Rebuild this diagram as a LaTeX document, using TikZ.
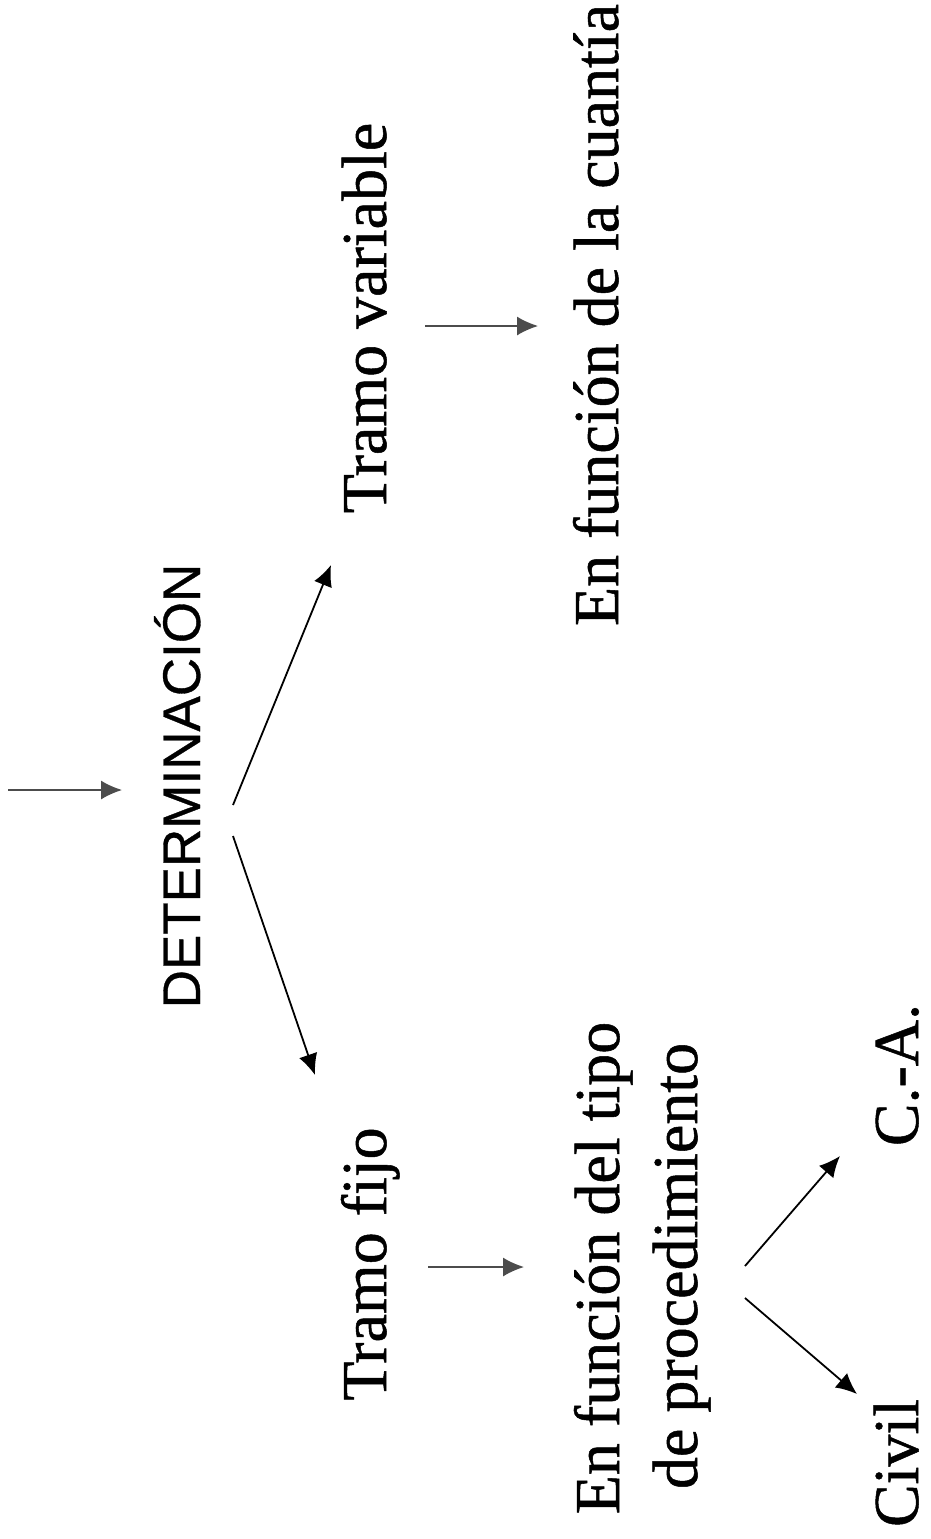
\documentclass[tikz,border=0pt]{standalone}
\usepackage{fontspec}
\setmainfont{Liberation Serif}[FakeBold=0.8]
\newfontfamily\arialf{Liberation Sans}[FakeBold=0.6]
\usetikzlibrary{arrows.meta}
\begin{document}
\begin{tikzpicture}[x=0.5pt,y=-0.5pt,
  lbl/.style={rotate=90,anchor=base,inner sep=0pt,font=\fontsize{32}{38}\selectfont},
  sanslbl/.style={rotate=90,anchor=base,inner sep=0pt,font=\arialf\fontsize{26.5}{32}\selectfont},
  harr/.style={draw=black!70,line width=0.7pt,-{Latex[length=10.5pt,width=9.5pt]}},
  barr/.style={draw=black,line width=0.9pt,-{Latex[length=10.5pt,width=9.5pt]}}]
\useasboundingbox (0,0) rectangle (931,1539);
% text nodes
\node[sanslbl] (det) at (200,786) {DETERMINACIÓN};
\node[lbl] (tvar) at (386,318) {Tramo variable};
\node[lbl] (tfijo) at (386,1264) {Tramo fijo};
\node[lbl] (cuantia) at (618,315) {En función de la cuantía};
\node[lbl] (tipo1) at (619,1268) {En función del tipo};
\node[lbl] (tipo2) at (697,1266) {de procedimiento};
\node[lbl] (ca) at (918,1075) {C.-A.};
\node[lbl] (civil) at (918,1463) {Civil};
% connector end points
\coordinate (in0) at (8,790);
\coordinate (detIn) at (122,790);
\coordinate (detUp) at (233,805);
\coordinate (tvarIn) at (331,565);
\coordinate (detDn) at (233,836);
\coordinate (tfijoIn) at (315,1075);
\coordinate (tvarOut) at (425,326);
\coordinate (cuantiaIn) at (538,326);
\coordinate (tfijoOut) at (428,1267);
\coordinate (tipoIn) at (524,1267);
\coordinate (tipoUp) at (745,1266);
\coordinate (caIn) at (840,1156);
\coordinate (tipoDn) at (745,1298);
\coordinate (civilIn) at (857,1394);
% connectors
\draw[harr] (in0) -- (detIn);
\draw[barr] (detUp) -- (tvarIn);
\draw[barr] (detDn) -- (tfijoIn);
\draw[harr] (tvarOut) -- (cuantiaIn);
\draw[harr] (tfijoOut) -- (tipoIn);
\draw[barr] (tipoUp) -- (caIn);
\draw[barr] (tipoDn) -- (civilIn);
\end{tikzpicture}
\end{document}
